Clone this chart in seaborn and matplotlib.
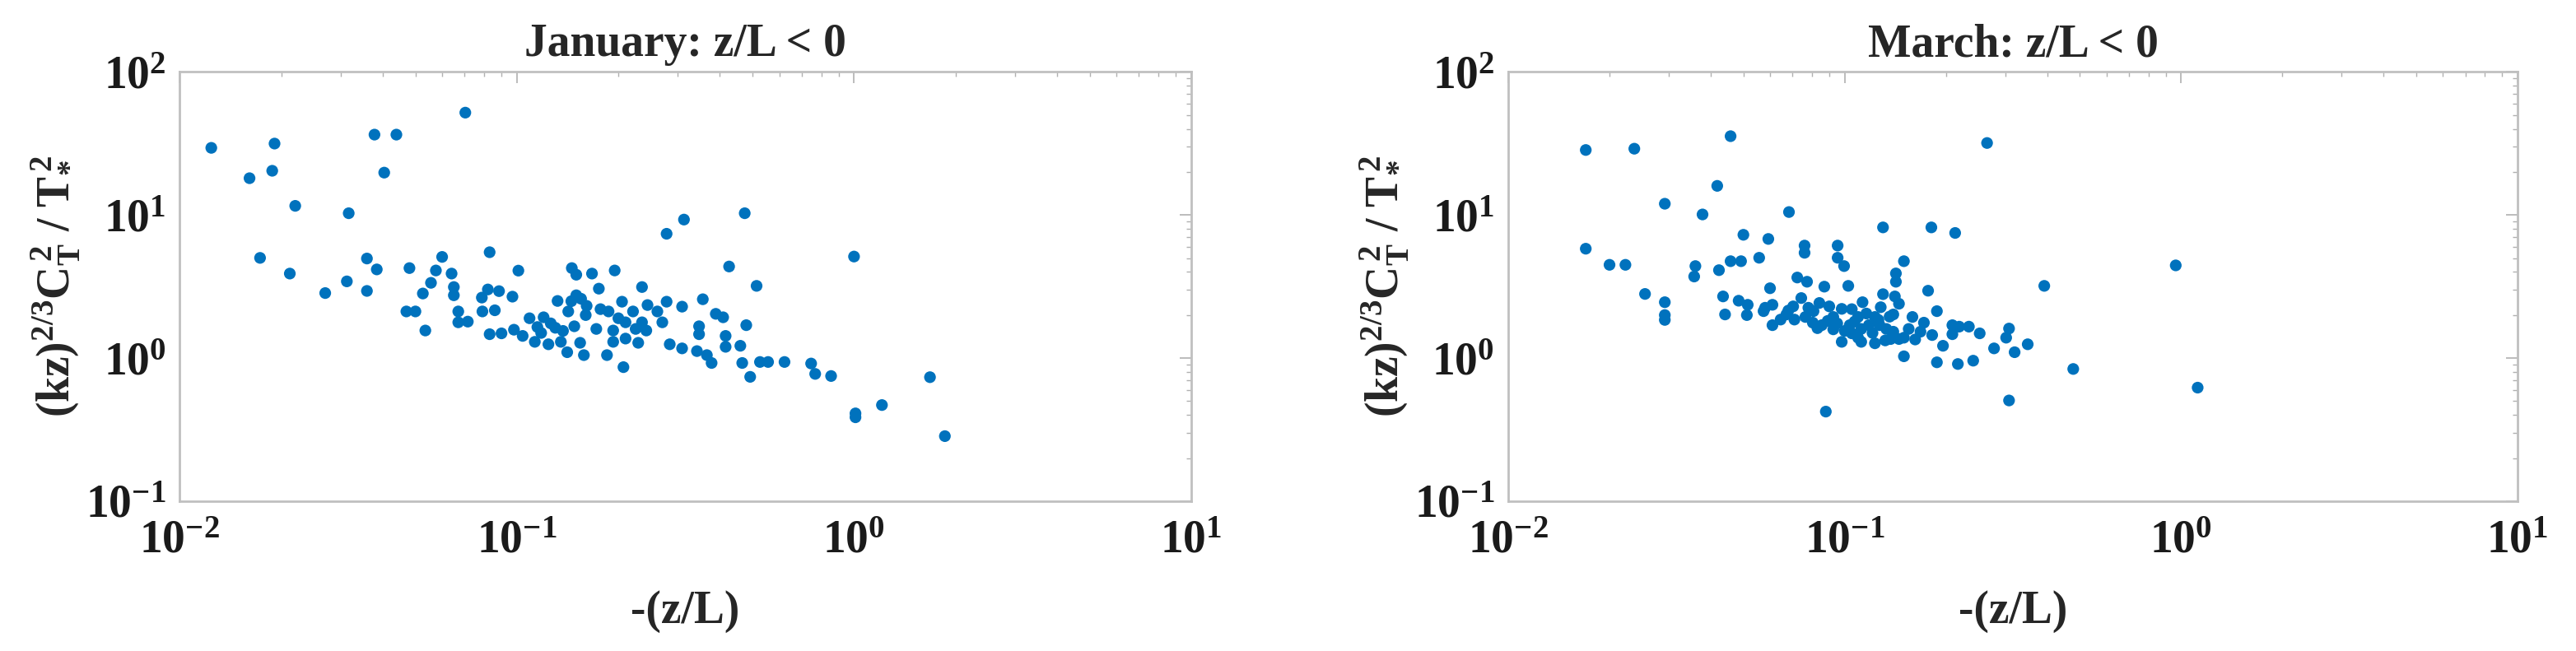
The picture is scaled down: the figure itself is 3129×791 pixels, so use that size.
import pandas as pd
import matplotlib
matplotlib.use('Agg')
import matplotlib.pyplot as plt
import matplotlib.ticker as mticker
import seaborn as sns

# January, z/L < 0
jan_x = [0.278, 0.048, 0.060, 0.083, 0.0575, 0.064, 0.0556, 0.0526, 0.065, 0.065,
         0.101, 0.047, 0.050, 0.0535, 0.067, 0.067, 0.0715, 0.0787, 0.082, 0.0885,
         0.097, 0.079, 0.086, 0.083, 0.090, 0.098, 0.104, 0.109, 0.113, 0.120,
         0.124, 0.130, 0.135, 0.132, 0.142, 0.141, 0.1455, 0.150, 0.150, 0.148,
         0.161, 0.154, 0.158, 0.167, 0.175, 0.177, 0.187, 0.195, 0.185, 0.193,
         0.193, 0.205, 0.207, 0.21, 0.21, 0.221, 0.229, 0.235, 0.242, 0.235,
         0.244, 0.261, 0.270, 0.278, 0.284, 0.309, 0.309, 0.342, 0.347, 0.347,
         0.356, 0.366, 0.378, 0.389, 0.409, 0.416, 0.416, 0.426, 0.46, 0.466,
         0.479, 0.492, 0.514, 0.526, 0.556, 0.622,
         0.0124, 0.0191, 0.0161, 0.0188, 0.0378, 0.0439, 0.0703, 0.0404, 0.0220, 0.0317,
         0.0173, 0.0212, 0.027, 0.0313, 0.0359, 0.0359, 0.0384, 0.313, 0.474, 1.0,
         0.746, 0.767, 0.855, 1.01, 1.01, 1.21, 1.68, 1.86,
         0.118, 0.126, 0.137, 0.145, 0.16, 0.172, 0.2, 0.225, 0.115, 0.155]
jan_y = [7.4, 4.26, 5.1, 5.5, 4.1, 3.9, 3.36, 2.83, 3.14, 2.75,
         4.09, 2.12, 2.12, 1.56, 2.12, 1.78, 1.8, 2.65, 3.02, 2.94,
         2.69, 2.12, 2.16, 1.47, 1.49, 1.58, 1.43, 1.9, 1.3, 1.93,
         1.25, 1.63, 1.3, 2.51, 2.12, 1.1, 4.26, 3.83, 2.75, 1.67,
         2.32, 1.28, 1.05, 3.9, 3.06, 2.2, 2.12, 4.1, 1.05, 1.56,
         1.3, 2.48, 0.865, 1.78, 1.37, 2.12, 1.28, 3.14, 1.56, 1.78,
         2.35, 2.12, 1.78, 2.48, 1.25, 1.17, 2.29, 1.12, 1.67, 1.47,
         2.58, 1.05, 0.925, 2.04, 1.93, 1.43, 1.2, 4.37, 1.22, 0.925,
         1.7, 0.74, 3.2, 0.94, 0.94, 0.94,
         29.5, 31.6, 18.1, 20.4, 36.5, 36.5, 52.0, 19.8, 11.6, 10.3,
         5.02, 3.9, 2.85, 3.44, 4.97, 2.95, 4.17, 9.3, 10.3, 5.13,
         0.917, 0.776, 0.75, 0.411, 0.386, 0.47, 0.736, 0.285,
         1.5, 1.75, 1.55, 2.5, 2.0, 1.6, 1.9, 1.6, 1.65, 2.6]

# March, z/L < 0
mar_x = [0.0423, 0.0458, 0.0492, 0.0557, 0.050, 0.0593, 0.076, 0.076, 0.0953, 0.0953,
         0.0996, 0.150, 0.213, 0.142, 0.142, 0.392, 0.0723, 0.0773, 0.087, 0.1025,
         0.060, 0.0435, 0.177, 0.130, 0.141, 0.0484, 0.0515, 0.0441, 0.0512, 0.0574,
         0.061, 0.061, 0.0671, 0.0703, 0.0743, 0.0709, 0.0804, 0.0841, 0.090, 0.0855,
         0.0925, 0.098, 0.098, 0.1035, 0.1096, 0.113, 0.1096, 0.118, 0.123, 0.123,
         0.128, 0.1395, 0.1395, 0.150, 0.150, 0.159, 0.168, 0.172, 0.182, 0.188,
         0.196, 0.188, 0.209, 0.209, 0.219, 0.234, 0.217, 0.241, 0.252, 0.278,
         0.302, 0.308, 0.320, 0.350,
         0.0808, 0.0925, 0.105, 0.127, 0.137, 0.145, 0.0645, 0.0764,
         0.0170, 0.0237, 0.0458, 0.265, 0.0418, 0.0292, 0.0378, 0.0683, 0.130, 0.181,
         0.0170, 0.020, 0.0223, 0.0255, 0.0292, 0.0292, 0.0292, 0.0357, 0.036, 0.964,
         0.478, 1.12, 0.308, 0.0879,
         0.083, 0.089, 0.095, 0.100, 0.107, 0.112, 0.116, 0.121, 0.126, 0.133,
         0.136, 0.155, 0.162, 0.078, 0.068, 0.058, 0.105, 0.145, 0.112, 0.132]
mar_y = [4.12, 4.76, 4.76, 5.03, 7.28, 6.81, 6.12, 5.45, 6.12, 5.03,
         4.4, 4.76, 7.5, 3.91, 3.42, 3.2, 3.66, 3.42, 3.16, 3.2,
         3.08, 2.7, 2.96, 2.8, 2.7, 2.52, 2.36, 2.02, 2.0, 2.13,
         2.36, 1.7, 2.02, 2.3, 2.63, 1.86, 1.77, 2.43, 2.3, 1.7,
         1.94, 2.21, 1.3, 1.7, 1.94, 2.46, 1.39, 1.7, 1.94, 1.27,
         2.27, 2.02, 1.53, 1.39, 1.03, 1.94, 1.53, 1.77, 1.45, 2.13,
         1.22, 0.935, 1.7, 1.47, 1.66, 1.66, 0.91, 0.96, 1.49, 1.17,
         1.39, 1.61, 1.1, 1.25,
         2.13, 1.59, 1.49, 1.7, 1.36, 1.36, 1.86, 1.94,
         28.5, 29.1, 35.6, 31.9, 16.0, 12.0, 10.1, 10.5, 8.2, 8.2,
         5.82, 4.49, 4.49, 2.81, 2.46, 1.85, 2.0, 3.72, 4.4, 4.45,
         0.84, 0.622, 0.506, 0.423,
         1.62, 1.82, 1.75, 1.55, 1.8, 1.6, 2.05, 1.5, 1.85, 1.6,
         1.95, 1.6, 1.35, 2.25, 2.15, 2.25, 2.2, 2.4, 1.3, 1.33]

titles = ['January: z/L < 0', 'March: z/L < 0']

sns.set_style('white')
plt.rcParams['font.family'] = ['Liberation Serif', 'DejaVu Serif']
plt.rcParams['font.weight'] = 'bold'
plt.rcParams['mathtext.fontset'] = 'custom'
plt.rcParams['mathtext.rm'] = 'Liberation Serif:bold'
plt.rcParams['mathtext.it'] = 'Liberation Serif:italic:bold'
plt.rcParams['mathtext.bf'] = 'Liberation Serif:bold'

fig = plt.figure(figsize=(31.29, 7.91), dpi=100)
ax1 = fig.add_axes([0.0698, 0.2301, 0.3926, 0.6593])
ax2 = fig.add_axes([0.5855, 0.2301, 0.3918, 0.6593])

frames = [pd.DataFrame({'x': jan_x, 'y': jan_y}), pd.DataFrame({'x': mar_x, 'y': mar_y})]

for ax, df, title in zip([ax1, ax2], frames, titles):
    sns.scatterplot(data=df, x='x', y='y', ax=ax, color='#0072BD', s=105,
                    linewidth=0, edgecolor='none')
    ax.set_xscale('log')
    ax.set_yscale('log')
    ax.set_xlim(1e-2, 1e1)
    ax.set_ylim(1e-1, 1e2)
    ax.xaxis.set_minor_formatter(mticker.NullFormatter())
    ax.yaxis.set_minor_formatter(mticker.NullFormatter())
    ax.tick_params(which='both', direction='in', top=True, right=True,
                   color='#b0b0b0', labelsize=40, labelcolor='#1a1a1a')
    ax.tick_params(which='major', length=10, width=1.2)
    ax.tick_params(which='minor', length=4, width=1.0)
    ax.tick_params(axis='x', pad=16)
    ax.tick_params(axis='y', pad=12)
    for sp in ax.spines.values():
        sp.set_color('#c0c0c0')
        sp.set_linewidth(2)
    ax.set_title(title, fontsize=40, fontweight='bold', pad=14)
    ax.set_xlabel('-(z/L)', fontsize=40, fontweight='bold', labelpad=24)
    ax.set_ylabel(r'$\mathrm{(kz)^{2/3}C_T^{\,2}\ /\ T_{*}^{\,2}}$', fontsize=40)
    ax.yaxis.set_label_coords(-0.0965, 0.5)
    ax.grid(False)

fig.savefig('out.png', dpi=100, facecolor='white')
